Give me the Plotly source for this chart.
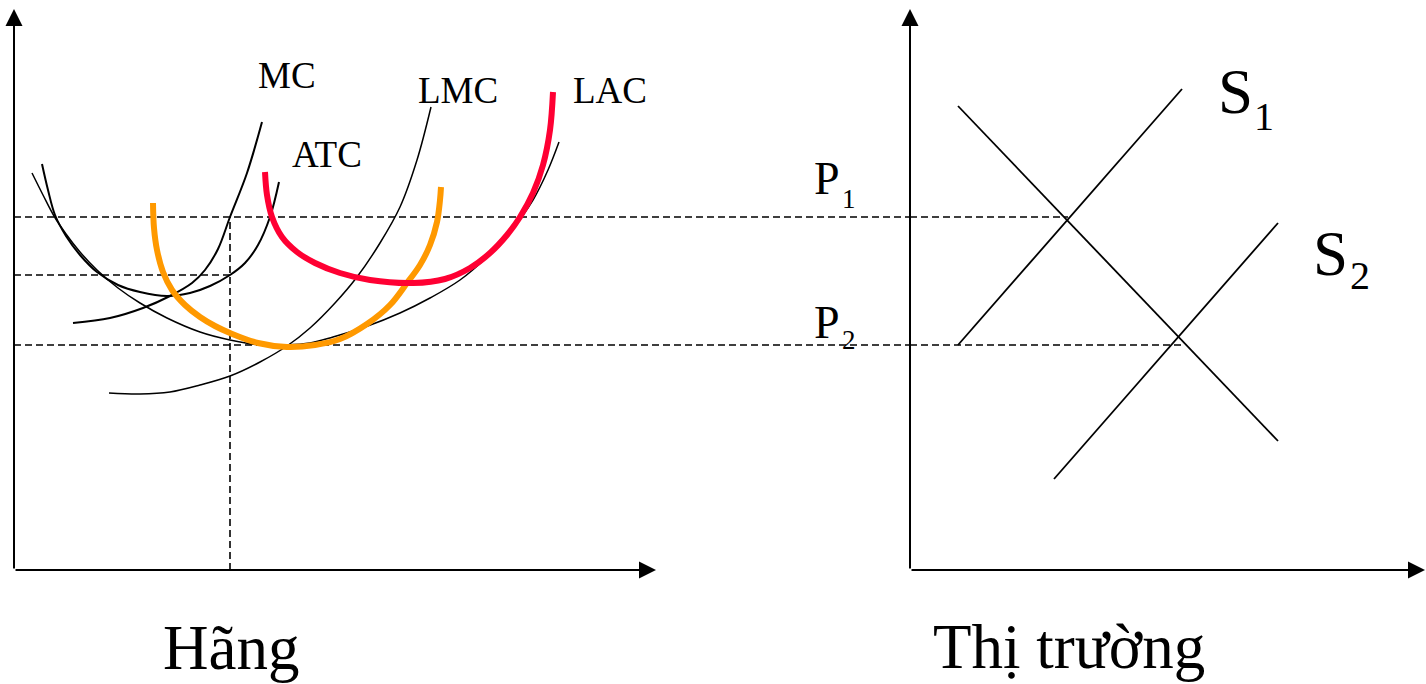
import plotly.graph_objects as go

W, H = 1426, 684

# ---------------- Firm panel ("Hãng"): quantity q vs cost / price ----------------
atc_q = [0.56, 0.68, 0.82, 1.04, 1.32, 1.66, 2.08, 2.52, 3.06, 3.52, 3.92, 4.32, 4.62, 4.88, 5.12, 5.30]
atc_v = [8.12, 7.60, 7.10, 6.68, 6.30, 5.96, 5.70, 5.56, 5.48, 5.54, 5.68, 5.90, 6.14, 6.50, 7.06, 7.76]

mc_q = [1.18, 1.92, 2.58, 3.12, 3.56, 3.82, 4.08, 4.32, 4.66, 4.96]
mc_v = [4.94, 5.04, 5.24, 5.48, 5.74, 6.00, 6.42, 7.06, 7.94, 8.96]

lac_q = [0.36, 0.58, 0.80, 1.04, 1.32, 1.66, 2.08, 2.52, 3.06, 3.72, 4.32, 4.92, 5.42, 5.92,
         6.38, 7.02, 7.72, 8.32, 8.92, 9.46, 9.92, 10.38, 10.68, 10.90]
lac_v = [7.94, 7.50, 7.08, 6.72, 6.36, 6.00, 5.64, 5.34, 5.04, 4.76, 4.60, 4.50, 4.50, 4.54,
         4.66, 4.86, 5.14, 5.44, 5.80, 6.26, 6.76, 7.40, 8.00, 8.56]

lmc_q = [1.90, 2.52, 3.12, 3.72, 4.32, 4.92, 5.46, 5.92, 6.42, 6.86, 7.32, 7.72, 8.06, 8.34]
lmc_v = [3.54, 3.52, 3.56, 3.70, 3.88, 4.16, 4.48, 4.84, 5.34, 5.86, 6.54, 7.26, 8.20, 9.26]

# short-run average cost of the plant before adjustment (red)
sac1_q = [5.02, 5.06, 5.16, 5.36, 5.66, 6.02, 6.52, 7.12, 7.98, 8.62, 9.12, 9.52, 9.86, 10.12,
          10.38, 10.58, 10.72, 10.78]
sac1_v = [7.96, 7.50, 7.06, 6.66, 6.36, 6.14, 5.94, 5.80, 5.74, 5.82, 6.04, 6.34, 6.70, 7.06,
          7.54, 8.10, 8.80, 9.56]

# short-run average cost of the optimal plant (orange)
sac2_q = [2.78, 2.80, 2.86, 2.98, 3.16, 3.42, 3.72, 4.02, 4.32, 4.88, 5.46, 6.02, 6.52, 7.06,
          7.52, 7.86, 8.12, 8.32, 8.46, 8.52, 8.54]
sac2_v = [7.34, 6.84, 6.40, 5.96, 5.60, 5.30, 5.06, 4.88, 4.74, 4.54, 4.46, 4.50, 4.62, 4.92,
          5.30, 5.74, 6.10, 6.50, 6.96, 7.40, 7.66]

# price levels and firm output
p1 = 7.06
p2 = 4.50
atc_at_q_star = 5.90
q_star = 4.32

firm_q_tip = 12.84
price_tip = 11.22

# ---------------- Market panel ("Thị trường"): quantity Q vs price ----------------
demand_Q = [0.96, 7.36]
demand_P = [9.28, 2.58]
s1_Q = [0.96, 5.44]
s1_P = [4.50, 9.62]
s2_Q = [2.88, 7.36]
s2_P = [1.82, 6.94]
eq_Q1 = 3.16
eq_Q2 = 5.46
market_Q_tip = 10.30

FIRM_X_MAX = 17.92
MARKET_X_MAX = 10.32

fig = go.Figure()

dash_style = dict(color="black", width=1.6, dash="7px,4px")

# dashed guide lines in the firm panel (carried across to the market axis)
fig.add_trace(go.Scatter(x=[0, FIRM_X_MAX], y=[p1, p1], mode="lines", line=dash_style, xaxis="x", yaxis="y"))
fig.add_trace(go.Scatter(x=[0, FIRM_X_MAX], y=[p2, p2], mode="lines", line=dash_style, xaxis="x", yaxis="y"))
fig.add_trace(go.Scatter(x=[0, q_star], y=[atc_at_q_star, atc_at_q_star], mode="lines", line=dash_style, xaxis="x", yaxis="y"))
fig.add_trace(go.Scatter(x=[q_star, q_star], y=[0, p1], mode="lines", line=dash_style, xaxis="x", yaxis="y"))

# dashed guide lines in the market panel
fig.add_trace(go.Scatter(x=[0, eq_Q1], y=[p1, p1], mode="lines", line=dash_style, xaxis="x2", yaxis="y"))
fig.add_trace(go.Scatter(x=[0, eq_Q2], y=[p2, p2], mode="lines", line=dash_style, xaxis="x2", yaxis="y"))


def curve(xs, ys, color, width, xa="x"):
    return go.Scatter(x=xs, y=ys, mode="lines", xaxis=xa, yaxis="y",
                      line=dict(color=color, width=width, shape="spline", smoothing=1.0))


# firm cost curves
fig.add_trace(curve(lmc_q, lmc_v, "black", 1.5))
fig.add_trace(curve(lac_q, lac_v, "black", 1.5))
fig.add_trace(curve(atc_q, atc_v, "black", 2))
fig.add_trace(curve(mc_q, mc_v, "black", 2))
fig.add_trace(curve(sac2_q, sac2_v, "#FF9900", 6))
fig.add_trace(curve(sac1_q, sac1_v, "#FF0033", 6))

# market demand and supply
market_line = dict(color="black", width=1.8)
fig.add_trace(go.Scatter(x=demand_Q, y=demand_P, mode="lines", line=market_line, xaxis="x2", yaxis="y"))
fig.add_trace(go.Scatter(x=s1_Q, y=s1_P, mode="lines", line=market_line, xaxis="x2", yaxis="y"))
fig.add_trace(go.Scatter(x=s2_Q, y=s2_P, mode="lines", line=market_line, xaxis="x2", yaxis="y"))


def axis_arrow(x, y, ax, ay, xref):
    return dict(x=x, y=y, ax=ax, ay=ay, xref=xref, yref="y", axref=xref, ayref="y",
                text="", showarrow=True, arrowhead=2, arrowsize=1.7, arrowwidth=2,
                arrowcolor="black")


FONT = "Liberation Serif, Times New Roman, serif"


def label(text, x, y, size, xref="x"):
    return dict(text=text, x=x, y=y, xref=xref, yref="y", showarrow=False,
                xanchor="center", yanchor="middle",
                font=dict(family=FONT, size=size, color="black"))


annotations = [
    axis_arrow(0, price_tip, 0, 0, "x"),
    axis_arrow(firm_q_tip, 0, 0, 0, "x"),
    axis_arrow(0, price_tip, 0, 0, "x2"),
    axis_arrow(market_Q_tip, 0, 0, 0, "x2"),
    label("MC", 5.45, 9.90, 37),
    label("ATC", 6.25, 8.31, 37),
    label("LMC", 8.87, 9.59, 37),
    label("LAC", 11.92, 9.59, 37),
    label("P", 16.26, 7.84, 46),
    label("1", 16.70, 7.43, 27),
    label("P", 16.26, 4.96, 46),
    label("2", 16.70, 4.60, 27),
    label("S", 6.50, 9.57, 63, "x2"),
    label("1", 7.08, 9.07, 40, "x2"),
    label("S", 8.41, 6.33, 63, "x2"),
    label("2", 9.00, 5.89, 40, "x2"),
    dict(text="Hãng", x=231.5 / W, y=1 - 648 / H, xref="paper", yref="paper", showarrow=False,
         xanchor="center", yanchor="middle", font=dict(family=FONT, size=63, color="black")),
    dict(text="Thị trường", x=1068.5 / W, y=1 - 647 / H, xref="paper", yref="paper", showarrow=False,
         xanchor="center", yanchor="middle", font=dict(family=FONT, size=63, color="black")),
]

fig.update_layout(
    width=W, height=H,
    margin=dict(l=0, r=0, t=0, b=0),
    paper_bgcolor="white", plot_bgcolor="white",
    showlegend=False, hovermode=False,
    xaxis=dict(domain=[0, 910 / W], range=[-0.28, FIRM_X_MAX], visible=False),
    xaxis2=dict(domain=[910 / W, 1], range=[0, MARKET_X_MAX], anchor="y", visible=False),
    yaxis=dict(domain=[0, 1], range=[-2.28, 11.4], visible=False),
    annotations=annotations,
)

fig.write_html("out.html")
